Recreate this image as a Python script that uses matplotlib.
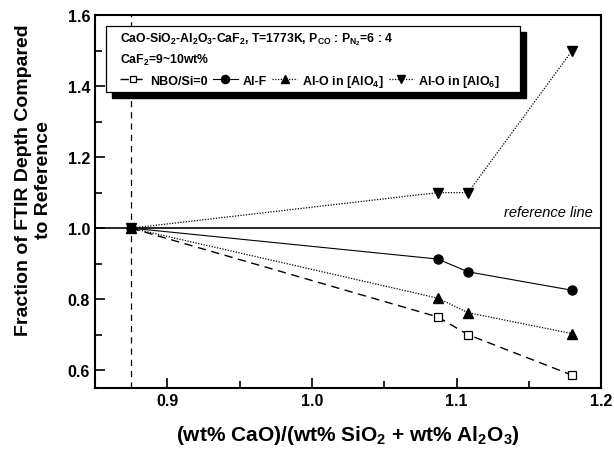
import numpy as np
import matplotlib
matplotlib.use("Agg")
from matplotlib import pyplot as plt
from matplotlib.patches import Rectangle
from matplotlib.ticker import MultipleLocator, FormatStrFormatter

# basicity ratio (wt% CaO)/(wt% SiO2 + wt% Al2O3)
x = [0.875, 1.087, 1.108, 1.18]

# fraction of FTIR depth vs. reference
nbo_si = [1.0, 0.750, 0.700, 0.586]
al_f = [1.0, 0.913, 0.877, 0.825]
al_o4 = [1.0, 0.803, 0.762, 0.703]
al_o6 = [1.0, 1.100, 1.100, 1.500]

ref_x = 0.875
ref_y = 1.0

plt.rcParams['font.family'] = ['Liberation Sans', 'DejaVu Sans']
plt.rcParams['font.weight'] = 'bold'
plt.rcParams['mathtext.fontset'] = 'custom'
plt.rcParams['mathtext.rm'] = 'Liberation Sans:bold'
plt.rcParams['mathtext.bf'] = 'Liberation Sans:bold'
plt.rcParams['mathtext.it'] = 'Liberation Sans:bold:italic'
plt.rcParams['mathtext.default'] = 'rm'

fig = plt.figure(figsize=(6.14, 4.52), dpi=100)
ax = fig.add_axes([0.1547, 0.1394, 0.8243, 0.8252])

ax.axvline(ref_x, color='black', lw=0.9, ls=(0, (5, 4)))
ax.axhline(ref_y, color='black', lw=1.2)
ax.text(1.1945, 1.046, "reference line", ha='right', va='center',
        fontsize=10.5, style='italic', fontweight='normal')

ax.plot(x, nbo_si, color='black', lw=1.0, ls=(0, (6, 4)), marker='s', ms=5.5,
        mfc='white', mec='black', mew=0.9, label='NBO/Si=0')
ax.plot(x, al_f, color='black', lw=0.8, ls='-', marker='o', ms=6.5,
        mfc='black', mec='black', label='Al-F')
ax.plot(x, al_o4, color='black', lw=0.9, ls=(0, (1, 1.2)), marker='^', ms=7,
        mfc='black', mec='black', label='Al-O in [AlO$_4$]')
ax.plot(x, al_o6, color='black', lw=0.9, ls=(0, (1, 1.2)), marker='v', ms=7,
        mfc='black', mec='black', label='Al-O in [AlO$_6$]')

ax.set_xlim(0.85, 1.2)
ax.set_ylim(0.55, 1.6)
ax.xaxis.set_major_locator(MultipleLocator(0.1))
ax.xaxis.set_minor_locator(MultipleLocator(0.05))
ax.yaxis.set_major_locator(MultipleLocator(0.2))
ax.yaxis.set_minor_locator(MultipleLocator(0.1))
ax.xaxis.set_major_formatter(FormatStrFormatter('%.1f'))
ax.yaxis.set_major_formatter(FormatStrFormatter('%.1f'))
ax.tick_params(which='both', direction='in', top=False, right=False,
               width=1.2, labelsize=11.5)
ax.tick_params(which='major', length=7)
ax.tick_params(which='minor', length=5)
for s in ax.spines.values():
    s.set_linewidth(1.5)

ax.set_xlabel("(wt% CaO)/(wt% SiO$_2$ + wt% Al$_2$O$_3$)", fontsize=15,
              fontweight='bold', labelpad=11)
ax.set_ylabel("Fraction of FTIR Depth Compared\nto Reference", fontsize=14,
              fontweight='bold', linespacing=1.25)
ax.yaxis.set_label_coords(-0.085, 0.56)

# legend box with shadow
bx, by, bw, bh = 0.0217, 0.7936, 0.818, 0.177
ax.add_patch(Rectangle((bx + 0.012, by - 0.016), bw, bh, transform=ax.transAxes,
                       facecolor='black', edgecolor='black', zorder=5))
ax.add_patch(Rectangle((bx, by), bw, bh, transform=ax.transAxes,
                       facecolor='white', edgecolor='black', lw=0.9, zorder=6))
ax.text(0.049, 0.937, "CaO-SiO$_2$-Al$_2$O$_3$-CaF$_2$, T=1773K, P$_{CO}$ : P$_{N_2}$=6 : 4",
        transform=ax.transAxes, fontsize=8.8, va='center', ha='left', zorder=7)
ax.text(0.049, 0.882, "CaF$_2$=9~10wt%", transform=ax.transAxes, fontsize=8.8,
        va='center', ha='left', zorder=7)
leg = ax.legend(loc='center left', bbox_to_anchor=(0.05, 0.824), ncol=4,
                frameon=False, fontsize=9, handlelength=2.0, handletextpad=0.35,
                columnspacing=0.45, borderaxespad=0, borderpad=0, markerscale=0.9)
leg.set_zorder(8)

fig.savefig("out.png", dpi=100)
